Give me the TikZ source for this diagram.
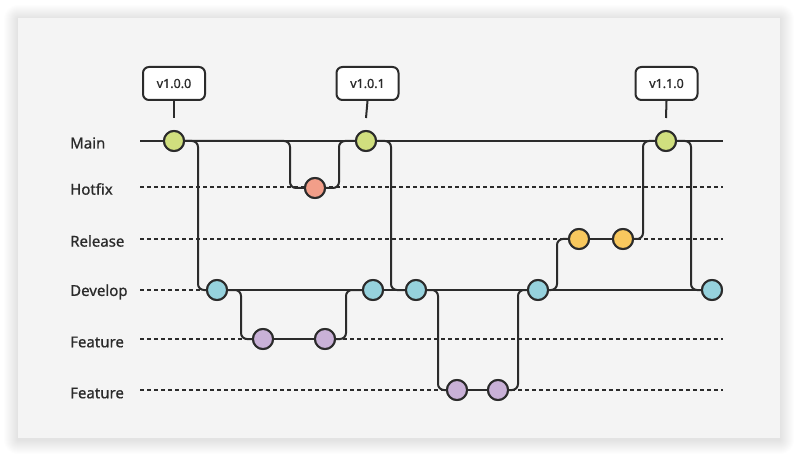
\documentclass[tikz,border=0pt]{standalone}
\usepackage{fontspec}
\setmainfont{Noto Sans}[FakeBold=0.8]
\begin{document}
\definecolor{ink}{HTML}{2B2B2B}
\definecolor{card}{HTML}{F4F4F4}
\definecolor{cmain}{HTML}{D0DF7E}
\definecolor{chot}{HTML}{F29E89}
\definecolor{crel}{HTML}{F8C85E}
\definecolor{cdev}{HTML}{96D2DD}
\definecolor{cfeat}{HTML}{C9B1D7}
\begin{tikzpicture}[x=1pt,y=-1pt,
  lane/.style={draw=ink,line width=2pt},
  dotlane/.style={draw=ink,line width=2pt,dash pattern=on 4pt off 3pt},
  link/.style={draw=ink,line width=2pt,rounded corners=6pt},
  commit/.style={circle,draw=ink,line width=2pt,minimum size=20pt,inner sep=0pt},
  tagbox/.style={draw=ink,fill=white,line width=2pt,rounded corners=6pt,
    minimum width=62pt,minimum height=33pt,inner sep=0pt,font=\fontsize{12.5}{14}\selectfont,text=ink},
  lanelabel/.style={anchor=west,inner sep=0pt,font=\fontsize{15}{17}\selectfont,text=ink}]
\useasboundingbox (0,0) rectangle (798,457);
\fill[white] (0,0) rectangle (798,457);
% soft shadow round the card
\foreach \i in {1,...,14}
  \fill[black,opacity=0.007,rounded corners=\i pt] (18-\i,18-\i+1) rectangle (780+\i,438+\i+2);
\fill[card] (18,18) rectangle (780,438);

% lane labels
\node[lanelabel] (lmain) at (70,143) {Main};
\node[lanelabel] (lhot) at (70,189) {Hotfix};
\node[lanelabel] (lrel) at (70,241) {Release};
\node[lanelabel] (ldev) at (70,292) {Develop};
\node[lanelabel] (lf1) at (70,342) {Feature};
\node[lanelabel] (lf2) at (70,393) {Feature};

% lane ends
\coordinate (ms) at (140,141); \coordinate (me) at (723,141);
\coordinate (hs) at (140,187); \coordinate (he) at (723,187);
\coordinate (rs) at (140,239); \coordinate (re) at (723,239);
\coordinate (ds) at (140,290);
\coordinate (f1s) at (140,339); \coordinate (f1e) at (723,339);
\coordinate (f2s) at (140,390); \coordinate (f2e) at (723,390);

% branch turning columns
\coordinate (xa) at (198,0);
\coordinate (xb) at (290,0);
\coordinate (xc) at (339,0);
\coordinate (xd) at (391,0);
\coordinate (xe) at (241,0);
\coordinate (xf) at (346,0);
\coordinate (xg) at (438,0);
\coordinate (xh) at (518,0);
\coordinate (xi) at (557,0);
\coordinate (xj) at (643,0);
\coordinate (xk) at (691,0);

% commits
\node[commit,fill=cmain] (m1) at (174,141) {};
\node[commit,fill=cmain] (m2) at (366,141) {};
\node[commit,fill=cmain] (m3) at (666,141) {};
\node[commit,fill=chot] (h1) at (315,188) {};
\node[commit,fill=crel] (r1) at (579,239) {};
\node[commit,fill=crel] (r2) at (623,239) {};
\node[commit,fill=cdev] (d1) at (217,290) {};
\node[commit,fill=cdev] (d2) at (373,290) {};
\node[commit,fill=cdev] (d3) at (416,290) {};
\node[commit,fill=cdev] (d4) at (538,290) {};
\node[commit,fill=cdev] (d5) at (712,290) {};
\node[commit,fill=cfeat] (fa1) at (263,339) {};
\node[commit,fill=cfeat] (fa2) at (325,339) {};
\node[commit,fill=cfeat] (fb1) at (457,390) {};
\node[commit,fill=cfeat] (fb2) at (498,390) {};

% version tags
\node[tagbox] (t1) at (174,83.5) {v1.0.0};
\node[tagbox] (t2) at (367.5,83.5) {v1.0.1};
\node[tagbox] (t3) at (666.5,83.5) {v1.1.0};

% lanes
\path[dotlane] (hs) -- (he);
\path[dotlane] (rs) -- (re);
\path[dotlane] (ds) -- (d1.west);
\path[dotlane] (f1s) -- (f1e);
\path[dotlane] (f2s) -- (f2e);
\path[lane] (ms) -- (me);
\path[lane] (d1) -- (d5);
\path[lane] (fa1) -- (fa2);
\path[lane] (fb1) -- (fb2);
\path[lane] (r1) -- (r2);

% tag stems, stopping short of the commit
\path[lane] (t1.south) -- ([yshift=12pt]m1.north);
\path[lane] (t2.south) -- ([yshift=12pt]m2.north);
\path[lane] (t3.south) -- ([yshift=12pt]m3.north);

% branches and merges
\path[link] (m1.east) -- (xa |- m1) -- (xa |- d1) -- (d1.west);
\path[link] (m1.east) -- (xb |- m1) -- (xb |- h1) -- (h1.west);
\path[link] (h1.east) -- (xc |- h1) -- (xc |- m2) -- (m2.west);
\path[link] (m2.east) -- (xd |- m2) -- (xd |- d3) -- (d3.west);
\path[link] (d1.east) -- (xe |- d1) -- (xe |- fa1) -- (fa1.west);
\path[link] (fa2.east) -- (xf |- fa2) -- (xf |- d2) -- (d2.west);
\path[link] (d3.east) -- (xg |- d3) -- (xg |- fb1) -- (fb1.west);
\path[link] (fb2.east) -- (xh |- fb2) -- (xh |- d4) -- (d4.west);
\path[link] (d4.east) -- (xi |- d4) -- (xi |- r1) -- (r1.west);
\path[link] (r2.east) -- (xj |- r2) -- (xj |- m3) -- (m3.west);
\path[link] (m3.east) -- (xk |- m3) -- (xk |- d5) -- (d5.west);

% redraw commits above the lines
\foreach \n/\c in {m1/cmain,m2/cmain,m3/cmain,h1/chot,r1/crel,r2/crel,d1/cdev,d2/cdev,d3/cdev,d4/cdev,d5/cdev,fa1/cfeat,fa2/cfeat,fb1/cfeat,fb2/cfeat}
  \path[draw=ink,line width=2pt,fill=\c] (\n) circle (10pt);
\end{tikzpicture}
\end{document}
